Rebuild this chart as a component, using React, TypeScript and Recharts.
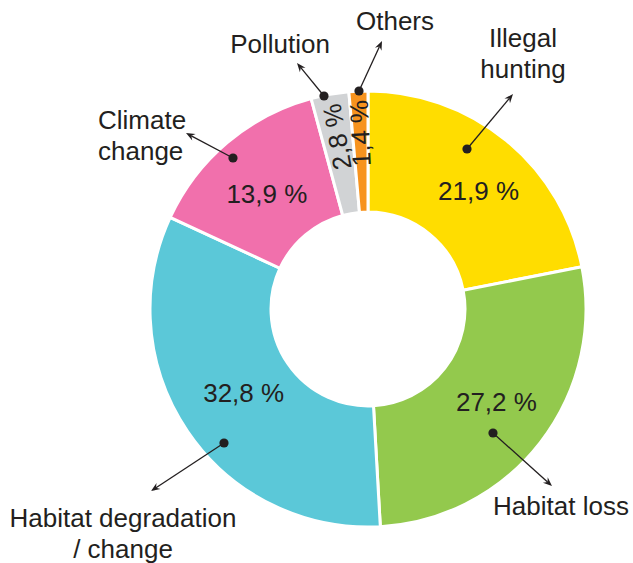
import React from 'react';
import { PieChart, Pie, Cell } from 'recharts';

// Threats share (%), clockwise from 12 o'clock
const CATEGORIES = ['Illegal hunting', 'Habitat loss', 'Habitat degradation / change', 'Climate change', 'Pollution', 'Others'];
const SHARES = [21.9, 27.2, 32.8, 13.9, 2.8, 1.4];
const COLORS = ['#FFDD00', '#93C94D', '#5BC8D8', '#F170AC', '#D1D3D5', '#F7931E'];

// how each outer label is split into lines
const LABEL_LINES = [['Illegal', 'hunting'], ['Habitat loss'], ['Habitat degradation', '/ change'], ['Climate', 'change'], ['Pollution'], ['Others']];

const TEXT = '#231F20';
const FONT = '"Liberation Sans", Arial, Helvetica, sans-serif';
const FS = 26;
const RAD = Math.PI / 180;

// callout layout, offsets from the pie centre
const CALLOUTS = [
  { dot: [99, -160], tip: [145, -215], text: [155, -262], anchor: 'middle' },
  { dot: [125, 124], tip: [184, 177], text: [193, 206], anchor: 'middle' },
  { dot: [-144, 134], tip: [-217, 182], text: [-245, 218], anchor: 'middle' },
  { dot: [-135, -151], tip: [-182, -176], text: [-270, -180], anchor: 'start' },
  { dot: [-44, -213], tip: [-71, -246], text: [-88, -256], anchor: 'middle' },
  { dot: [-9, -218], tip: [14, -268], text: [27, -279], anchor: 'middle' },
];
const NUDGE = [[9, 6], [2, -5], [8, -6], [2, 7], [0, 1], [0, 0]];

const data = CATEGORIES.map((name, i) => ({ name, value: SHARES[i] }));

const fmt = (v: number) => v.toFixed(1).replace('.', ',') + ' %';

function Arrow({ x1, y1, x2, y2 }: { x1: number; y1: number; x2: number; y2: number }) {
  const len = Math.hypot(x2 - x1, y2 - y1);
  const ux = (x2 - x1) / len;
  const uy = (y2 - y1) / len;
  const nx = -uy;
  const ny = ux;
  const head = `M${x2},${y2} L${x2 - 9 * ux + 3.6 * nx},${y2 - 9 * uy + 3.6 * ny} L${x2 - 6 * ux},${y2 - 6 * uy} L${x2 - 9 * ux - 3.6 * nx},${y2 - 9 * uy - 3.6 * ny} Z`;
  return (
    <g>
      <line x1={x1} y1={y1} x2={x2 - 6 * ux} y2={y2 - 6 * uy} stroke={TEXT} strokeWidth={1.3} />
      <path d={head} fill={TEXT} />
    </g>
  );
}

function renderLabel(props: any) {
  const { cx, cy, midAngle, index, value } = props;
  const small = value < 5;
  const r = small ? 176 : 160;
  const x = cx + r * Math.cos(-midAngle * RAD) + NUDGE[index][0];
  const y = cy + r * Math.sin(-midAngle * RAD) + NUDGE[index][1];
  const c = CALLOUTS[index];
  const dx = cx + c.dot[0];
  const dy = cy + c.dot[1];
  return (
    <g key={`lbl-${index}`}>
      <text
        x={x}
        y={y}
        textAnchor="middle"
        dominantBaseline="central"
        fill={TEXT}
        fontSize={FS}
        fontFamily={FONT}
        transform={small ? `rotate(${-midAngle}, ${x}, ${y})` : undefined}
      >
        {fmt(value)}
      </text>
      <Arrow x1={dx} y1={dy} x2={cx + c.tip[0]} y2={cy + c.tip[1]} />
      <circle cx={dx} cy={dy} r={4.6} fill={TEXT} />
      <text x={cx + c.text[0]} y={cy + c.text[1]} textAnchor={c.anchor as any} fill={TEXT} fontSize={FS} fontFamily={FONT}>
        {LABEL_LINES[index].map((line, k) => (
          <tspan key={k} x={cx + c.text[0]} dy={k === 0 ? 0 : 31}>
            {line}
          </tspan>
        ))}
      </text>
    </g>
  );
}

export default function App() {
  return (
    <div style={{ position: 'absolute', left: 0, top: 0, background: '#fff' }}>
      <PieChart width={633} height={563} margin={{ top: 0, right: 0, bottom: 0, left: 0 }}>
        <Pie
          data={data}
          dataKey="value"
          nameKey="name"
          cx={368}
          cy={309}
          innerRadius={97}
          outerRadius={218}
          startAngle={90}
          endAngle={-270}
          stroke="#ffffff"
          strokeWidth={3}
          label={renderLabel}
          labelLine={false}
          isAnimationActive={false}
        >
          {data.map((d, i) => (
            <Cell key={d.name} fill={COLORS[i]} />
          ))}
        </Pie>
      </PieChart>
    </div>
  );
}
